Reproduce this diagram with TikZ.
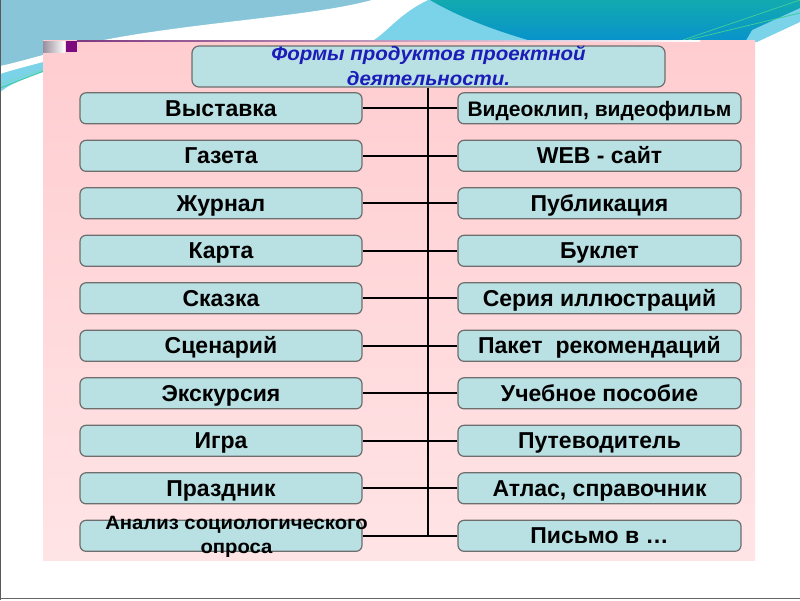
\documentclass[tikz,border=0pt]{standalone}
\usepackage{fontspec}
\setmainfont{Liberation Sans}
\newfontfamily\widef[FakeStretch=1.05]{Liberation Sans}
\newfontfamily\titlef[FakeStretch=1.05]{Liberation Sans}
\definecolor{boxfill}{HTML}{B9E0E3}
\definecolor{boxline}{HTML}{6E6E6E}
\definecolor{pinktop}{HTML}{FFCDD0}
\definecolor{pinkbot}{HTML}{FFE4E6}
\definecolor{titleblue}{HTML}{1C1CB8}
\definecolor{skyA}{HTML}{88C5D9}
\definecolor{skyB}{HTML}{7AD3E8}
\definecolor{tealA}{HTML}{12AAB0}
\definecolor{tealB}{HTML}{0892CC}
\definecolor{swgreen}{HTML}{3CCB9C}
\definecolor{markpurple}{HTML}{7E0A80}
\definecolor{markgray}{HTML}{9A8E9C}
\tikzset{
  item/.style={draw=boxline, line width=1.2pt, fill=boxfill, rounded corners=6pt,
    minimum height=31pt, inner sep=0pt, text height=20pt, text depth=4.6pt,
    font=\bfseries\fontsize{23}{27}\selectfont},
  litem/.style={item, minimum width=282pt},
  ritem/.style={item, minimum width=283pt},
  conn/.style={line width=2pt, black},
}
\begin{document}
\begin{tikzpicture}[x=1pt,y=-1pt]
\useasboundingbox (0,0) rectangle (800,600);
\fill[white] (0,0) rectangle (800,600);
% top background
\fill[skyB] (0,0) -- (800,0) -- (800,22) -- (757,42) -- (43,42) -- (43,72)
  .. controls (25,78) and (10,84) .. (0,92) -- cycle;
\fill[skyA] (0,0) -- (372,0) .. controls (300,20) and (140,24) .. (43,55)
  .. controls (25,60) and (10,64) .. (0,66) -- cycle;
\fill[white] (372,0) .. controls (300,20) and (140,24) .. (43,55)
  .. controls (25,60) and (10,64) .. (0,66) -- (0,74)
  .. controls (12,70) and (28,66) .. (43,62)
  .. controls (140,45) and (300,48) .. (370,42)
  .. controls (385,35) and (398,14) .. (428,0) -- cycle;
\shade[top color=tealA, bottom color=tealB]
  (430,0) -- (800,0) -- (800,8) -- (752,30) -- (745,42) -- (535,42)
  .. controls (485,28) and (450,12) .. (430,0) -- cycle;
\draw[swgreen, line width=0.8pt] (683,40) -- (800,0);
\draw[swgreen, line width=0.8pt] (688,40) -- (800,13);
\draw[swgreen, line width=0.8pt] (0,88) -- (44,71);
\draw[swgreen!70!white, line width=0.6pt] (0,84) -- (44,69);
% frame lines
\draw[gray!70!black, line width=1pt] (0.5,0) -- (0.5,600);
\draw[gray!80!black, line width=1.5pt] (0,598.5) -- (800,598.5);
% pink panel
\shade[top color=pinktop, bottom color=pinkbot] (43,40) rectangle (755,560);
\shade[left color=markpurple!60!gray, right color=white] (77,40) rectangle (700,41.3);
\shade[left color=markgray, right color=white] (43,41) rectangle (65,52);
\fill[markpurple] (66,41) rectangle (77,52);
% title
\node[draw=boxline, line width=1.2pt, fill=boxfill, rounded corners=7pt,
  minimum width=473pt, minimum height=41pt, inner sep=0pt] (title) at (428.5,66.5) {};
\node[font=\titlef\bfseries\itshape\fontsize{19.5}{25}\selectfont, text=titleblue,
  align=center, inner sep=0pt, anchor=base] (titletext) at (428.5,85)
  {Формы продуктов проектной\\деятельности.};
% items
\foreach \i/\lt/\rt in {
  1/Газета/{WEB - сайт}, 2/Журнал/Публикация, 3/Карта/Буклет,
  4/Сказка/{Серия иллюстраций}, 5/Сценарий/{Пакет\ \ рекомендаций},
  6/Экскурсия/{Учебное пособие}, 7/Игра/Путеводитель,
  8/Праздник/{Атлас, справочник}}{
  \node[litem] (l\i) at (221,108.3+47.5*\i) {\lt};
  \node[ritem] (r\i) at (599.5,108.3+47.5*\i) {\rt};
}
\node[litem] (l0) at (221,108.3) {Выставка};
\node[ritem, font=\bfseries\fontsize{21}{25}\selectfont] (r0) at (599.5,108.3) {Видеоклип, видеофильм};
\node[litem] (l9) at (221,535.8) {};
\node[ritem] (r9) at (599.5,535.8) {Письмо в \dots};
\node[font=\widef\bfseries\fontsize{19.3}{24}\selectfont, align=center, inner sep=0pt,
  anchor=base] (l9text) at (236.5,553) {Анализ социологического\\опроса};
% connectors
\coordinate (spine) at (428,535.8);
\draw[conn] (title.south -| spine) -- (spine);
\foreach \i in {0,...,9}{
  \draw[conn] (l\i.east) -- (r\i.west);
}
\end{tikzpicture}
\end{document}
